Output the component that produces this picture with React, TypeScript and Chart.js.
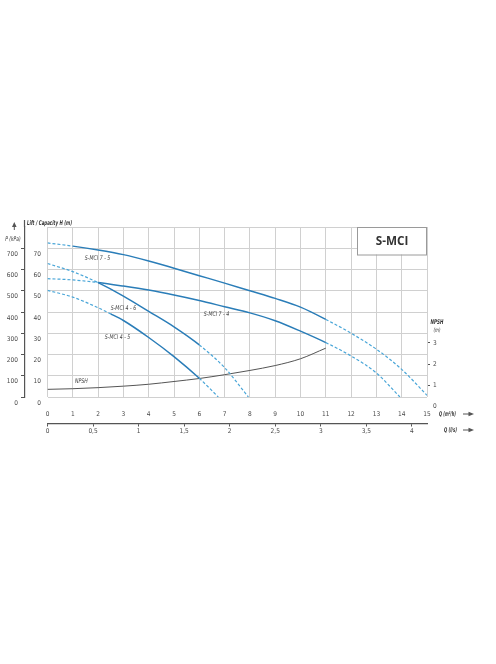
import React, { useEffect, useRef } from 'react';
import { Chart, registerables } from 'chart.js';

Chart.register(...registerables);

// ---- data (Q in m³/h, H in m, NPSH in m) ----
const Q_75 = [0, 1, 2, 3, 4, 5, 6, 7, 8, 9, 10, 11, 12, 13, 14, 15];
const H_75 = [72.5, 71.0, 69.2, 67.0, 64.0, 60.6, 57.1, 53.6, 50.0, 46.4, 42.3, 36.5, 30.0, 22.5, 13.0, 0.8];
const SOLID_75 = [1, 11];

const Q_74 = [0, 1, 2, 3, 4, 5, 6, 7, 8, 9, 10, 11, 12, 13, 13.93];
const H_74 = [55.7, 55.1, 53.9, 52.2, 50.3, 48.0, 45.4, 42.5, 39.6, 35.9, 31.0, 25.6, 19.3, 11.3, 0];
const SOLID_74 = [2, 11];

const Q_46 = [0, 1, 2, 3, 4, 5, 6, 7, 7.94];
const H_46 = [62.8, 59.0, 53.8, 47.5, 40.3, 33.0, 24.5, 13.8, 0];
const SOLID_46 = [2, 6];

const Q_45 = [0, 1, 2, 2.5, 3, 4, 5, 6, 6.75];
const H_45 = [50.2, 47.0, 42.0, 39.1, 36.0, 28.0, 19.0, 8.8, 0];
const SOLID_45 = [2.5, 6];

const Q_NPSH = [0, 1, 2, 3, 4, 5, 6, 7, 8, 9, 10, 11];
const NPSH = [0.81, 0.84, 0.89, 0.96, 1.05, 1.18, 1.32, 1.5, 1.7, 1.93, 2.25, 2.75];

const NPSH_TICKS = [0, 1, 2, 3];
const LS_TICKS = [0, 0.5, 1, 1.5, 2, 2.5, 3, 3.5, 4];

const CURVE_NAMES = ['S-MCI 7 - 5', 'S-MCI 4 - 6', 'S-MCI 4 - 5', 'S-MCI 7 - 4', 'NPSH'];
const NAME_Q = [1.98, 3.0, 2.77, 6.68, 1.34];
const NAME_H = [65.3, 41.9, 28.1, 39.1, 7.5];

const TITLE = 'S-MCI';

// ---- styles ----
const FONT = "'Liberation Sans Narrow', 'DejaVu Sans Condensed', 'Liberation Sans', sans-serif";
const GRID = '#d0d0d0';
const AXIS = '#555555';
const TEXT = '#4a4a4a';
const SOLID_C = '#2a7db8';
const DASH_C = '#4aa6d8';

function pumpDataset(label: string, qs: number[], hs: number[], solid: number[]) {
  const isDash = (c: any) => c.p1.parsed.x <= solid[0] + 1e-6 || c.p0.parsed.x >= solid[1] - 1e-6;
  return {
    label,
    data: qs.map((q, i) => ({ x: q, y: hs[i] })),
    xAxisID: 'x',
    yAxisID: 'y',
    borderColor: SOLID_C,
    borderWidth: 1.5,
    pointRadius: 0,
    cubicInterpolationMode: 'monotone' as const,
    segment: {
      borderDash: (c: any) => (isDash(c) ? [3, 2] : undefined),
      borderColor: (c: any) => (isDash(c) ? DASH_C : SOLID_C),
      borderWidth: (c: any) => (isDash(c) ? 1.2 : 1.5),
    },
  };
}

function arrowRight(ctx: CanvasRenderingContext2D, x0: number, x1: number, y: number) {
  ctx.beginPath();
  ctx.moveTo(x0, y);
  ctx.lineTo(x1 - 4, y);
  ctx.stroke();
  ctx.beginPath();
  ctx.moveTo(x1, y);
  ctx.lineTo(x1 - 5.5, y - 2.2);
  ctx.lineTo(x1 - 5.5, y + 2.2);
  ctx.closePath();
  ctx.fill();
}

// draw text horizontally condensed (the reference uses a condensed face)
function text(
  ctx: CanvasRenderingContext2D,
  s: string,
  x: number,
  y: number,
  align: CanvasTextAlign,
  font: string,
  sx: number,
) {
  ctx.save();
  ctx.translate(x, y);
  ctx.scale(sx, 1);
  ctx.font = font;
  ctx.textAlign = align;
  ctx.textBaseline = 'middle';
  ctx.fillText(s, 0, 0);
  ctx.restore();
}

const decor = {
  id: 'decor',
  afterDraw(chart: any) {
    const { ctx, chartArea: a, scales } = chart;
    const xs = scales.x;
    const ys = scales.y;
    const p = scales.p;
    const x2 = scales.x2;
    const n = scales.npsh;
    ctx.save();
    ctx.strokeStyle = AXIS;
    ctx.fillStyle = AXIS;
    // P axis extension above plot
    ctx.lineWidth = 1.2;
    ctx.beginPath();
    ctx.moveTo(p.right - 0.5, a.top);
    ctx.lineTo(p.right - 0.5, a.top - 7);
    ctx.stroke();
    // up arrow for P
    const ax = p.right - 10.7;
    ctx.lineWidth = 1;
    ctx.beginPath();
    ctx.moveTo(ax, a.top - 1);
    ctx.lineTo(ax, a.top + 3);
    ctx.stroke();
    ctx.beginPath();
    ctx.moveTo(ax, a.top - 5);
    ctx.lineTo(ax - 2.3, a.top);
    ctx.lineTo(ax + 2.3, a.top);
    ctx.closePath();
    ctx.fill();

    ctx.fillStyle = '#333';
    const it = `italic 6.5px ${FONT}`;
    const itb = `italic bold 6.5px ${FONT}`;
    text(ctx, 'P (kPa)', ax - 1.3, a.top + 12, 'center', it, 0.75);
    text(ctx, 'Lift / Capacity H (m)', p.right + 2, a.top - 3.7, 'left', itb, 0.68);
    text(ctx, 'Q (m³/h)', a.right + 12, xs.top + 17, 'left', itb, 0.62);
    text(ctx, 'Q (l/s)', a.right + 17, x2.top + 6.5, 'left', itb, 0.65);
    const n3 = n.getPixelForValue(3);
    text(ctx, 'NPSH', a.right + 10, n3 - 20.5, 'center', itb, 0.7);
    text(ctx, '(m)', a.right + 10, n3 - 12, 'center', `italic 6px ${FONT}`, 0.75);

    // Q arrows
    ctx.fillStyle = AXIS;
    ctx.strokeStyle = AXIS;
    ctx.lineWidth = 1;
    arrowRight(ctx, a.right + 36, a.right + 47, xs.top + 17);
    arrowRight(ctx, a.right + 36, a.right + 47, x2.top + 6.5);

    // curve names
    ctx.fillStyle = '#444';
    CURVE_NAMES.forEach((name, i) => {
      text(ctx, name, xs.getPixelForValue(NAME_Q[i]), ys.getPixelForValue(NAME_H[i]), 'center', it, 0.8);
    });

    // title box
    const bw = 70;
    const bh = 27.5;
    ctx.fillStyle = '#ffffff';
    ctx.fillRect(a.right - bw, a.top, bw, bh);
    ctx.strokeStyle = '#9a9a9a';
    ctx.lineWidth = 1;
    ctx.strokeRect(a.right - bw + 0.5, a.top + 0.5, bw - 1, bh);
    ctx.fillStyle = '#333';
    text(ctx, TITLE, a.right - bw / 2, a.top + bh / 2 + 0.5, 'center', `bold 13px 'Open Sans', sans-serif`, 0.9);
    ctx.restore();
  },
};

export default function App() {
  const ref = useRef<HTMLCanvasElement | null>(null);
  useEffect(() => {
    if (!ref.current) return;
    const tickFont = { family: FONT, size: 6.5 };
    const chart = new Chart(ref.current, {
      type: 'line',
      data: {
        datasets: [
          pumpDataset('S-MCI 7 - 5', Q_75, H_75, SOLID_75),
          pumpDataset('S-MCI 7 - 4', Q_74, H_74, SOLID_74),
          pumpDataset('S-MCI 4 - 6', Q_46, H_46, SOLID_46),
          pumpDataset('S-MCI 4 - 5', Q_45, H_45, SOLID_45),
          {
            label: 'NPSH',
            data: Q_NPSH.map((q, i) => ({ x: q, y: NPSH[i] })),
            xAxisID: 'x',
            yAxisID: 'npsh',
            borderColor: '#555555',
            borderWidth: 1,
            pointRadius: 0,
            cubicInterpolationMode: 'monotone',
          } as any,
        ],
      },
      options: {
        responsive: false,
        animation: false,
        events: [],
        layout: { padding: { left: 0, right: 29, top: 227, bottom: 220.5 } },
        plugins: { legend: { display: false }, tooltip: { enabled: false } },
        scales: {
          p: {
            type: 'linear',
            position: 'left',
            weight: 10,
            min: 0,
            max: 800,
            afterFit: (s: any) => { s.width = 25; },
            border: { display: true, color: AXIS, width: 1.2 },
            grid: {
              drawOnChartArea: false,
              drawTicks: true,
              tickLength: 4,
              tickColor: (c: any) => (c.tick && c.tick.value === 800 ? 'rgba(0,0,0,0)' : AXIS),
            },
            ticks: {
              stepSize: 100,
              autoSkip: false,
              padding: 3,
              labelOffset: 6,
              color: TEXT,
              font: tickFont,
              callback: (v: any) => (v === 800 ? '' : String(v)),
            },
          },
          y: {
            type: 'linear',
            position: 'left',
            weight: 0,
            min: 0,
            max: 80,
            afterFit: (s: any) => { s.width = 22.5; },
            border: { display: false },
            grid: { color: GRID, lineWidth: 1, drawTicks: false },
            ticks: {
              stepSize: 10,
              autoSkip: false,
              padding: 6.5,
              labelOffset: 6,
              color: TEXT,
              font: tickFont,
              callback: (v: any) => (v === 80 ? '' : String(v)),
            },
          },
          npsh: {
            type: 'linear',
            position: 'right',
            min: 0.45,
            max: 8.45,
            afterFit: (s: any) => { s.width = 40; },
            afterBuildTicks: (s: any) => { s.ticks = NPSH_TICKS.map((v) => ({ value: v })); },
            border: { display: false },
            grid: {
              drawOnChartArea: false,
              drawTicks: true,
              tickLength: 3,
              tickColor: (c: any) => (c.tick && c.tick.value === 0 ? 'rgba(0,0,0,0)' : AXIS),
            },
            ticks: { autoSkip: false, padding: 3, color: TEXT, font: tickFont },
          },
          x: {
            type: 'linear',
            position: 'bottom',
            weight: 0,
            min: 0,
            max: 15,
            afterFit: (s: any) => { s.height = 26.5; },
            border: { display: false },
            grid: { color: GRID, lineWidth: 1, drawTicks: false },
            ticks: { stepSize: 1, autoSkip: false, maxRotation: 0, padding: 13, color: TEXT, font: tickFont },
          },
          x2: {
            type: 'linear',
            position: 'bottom',
            weight: 10,
            min: 0,
            max: 15 / 3.6,
            afterFit: (s: any) => { s.height = 20; },
            afterBuildTicks: (s: any) => { s.ticks = LS_TICKS.map((v) => ({ value: v })); },
            border: { display: true, color: AXIS, width: 1.2 },
            grid: { drawOnChartArea: false, drawTicks: true, tickLength: 3, tickColor: AXIS },
            ticks: {
              autoSkip: false,
              maxRotation: 0,
              padding: 0.5,
              color: TEXT,
              font: tickFont,
              callback: (v: any) => String(v).replace('.', ','),
            },
          },
        } as any,
      },
      plugins: [decor],
    });
    return () => chart.destroy();
  }, []);

  return (
    <div style={{ position: 'absolute', left: 0, top: 0, width: 496, height: 664, background: '#fff' }}>
      <canvas ref={ref} width={496} height={664} style={{ display: 'block' }} />
    </div>
  );
}
